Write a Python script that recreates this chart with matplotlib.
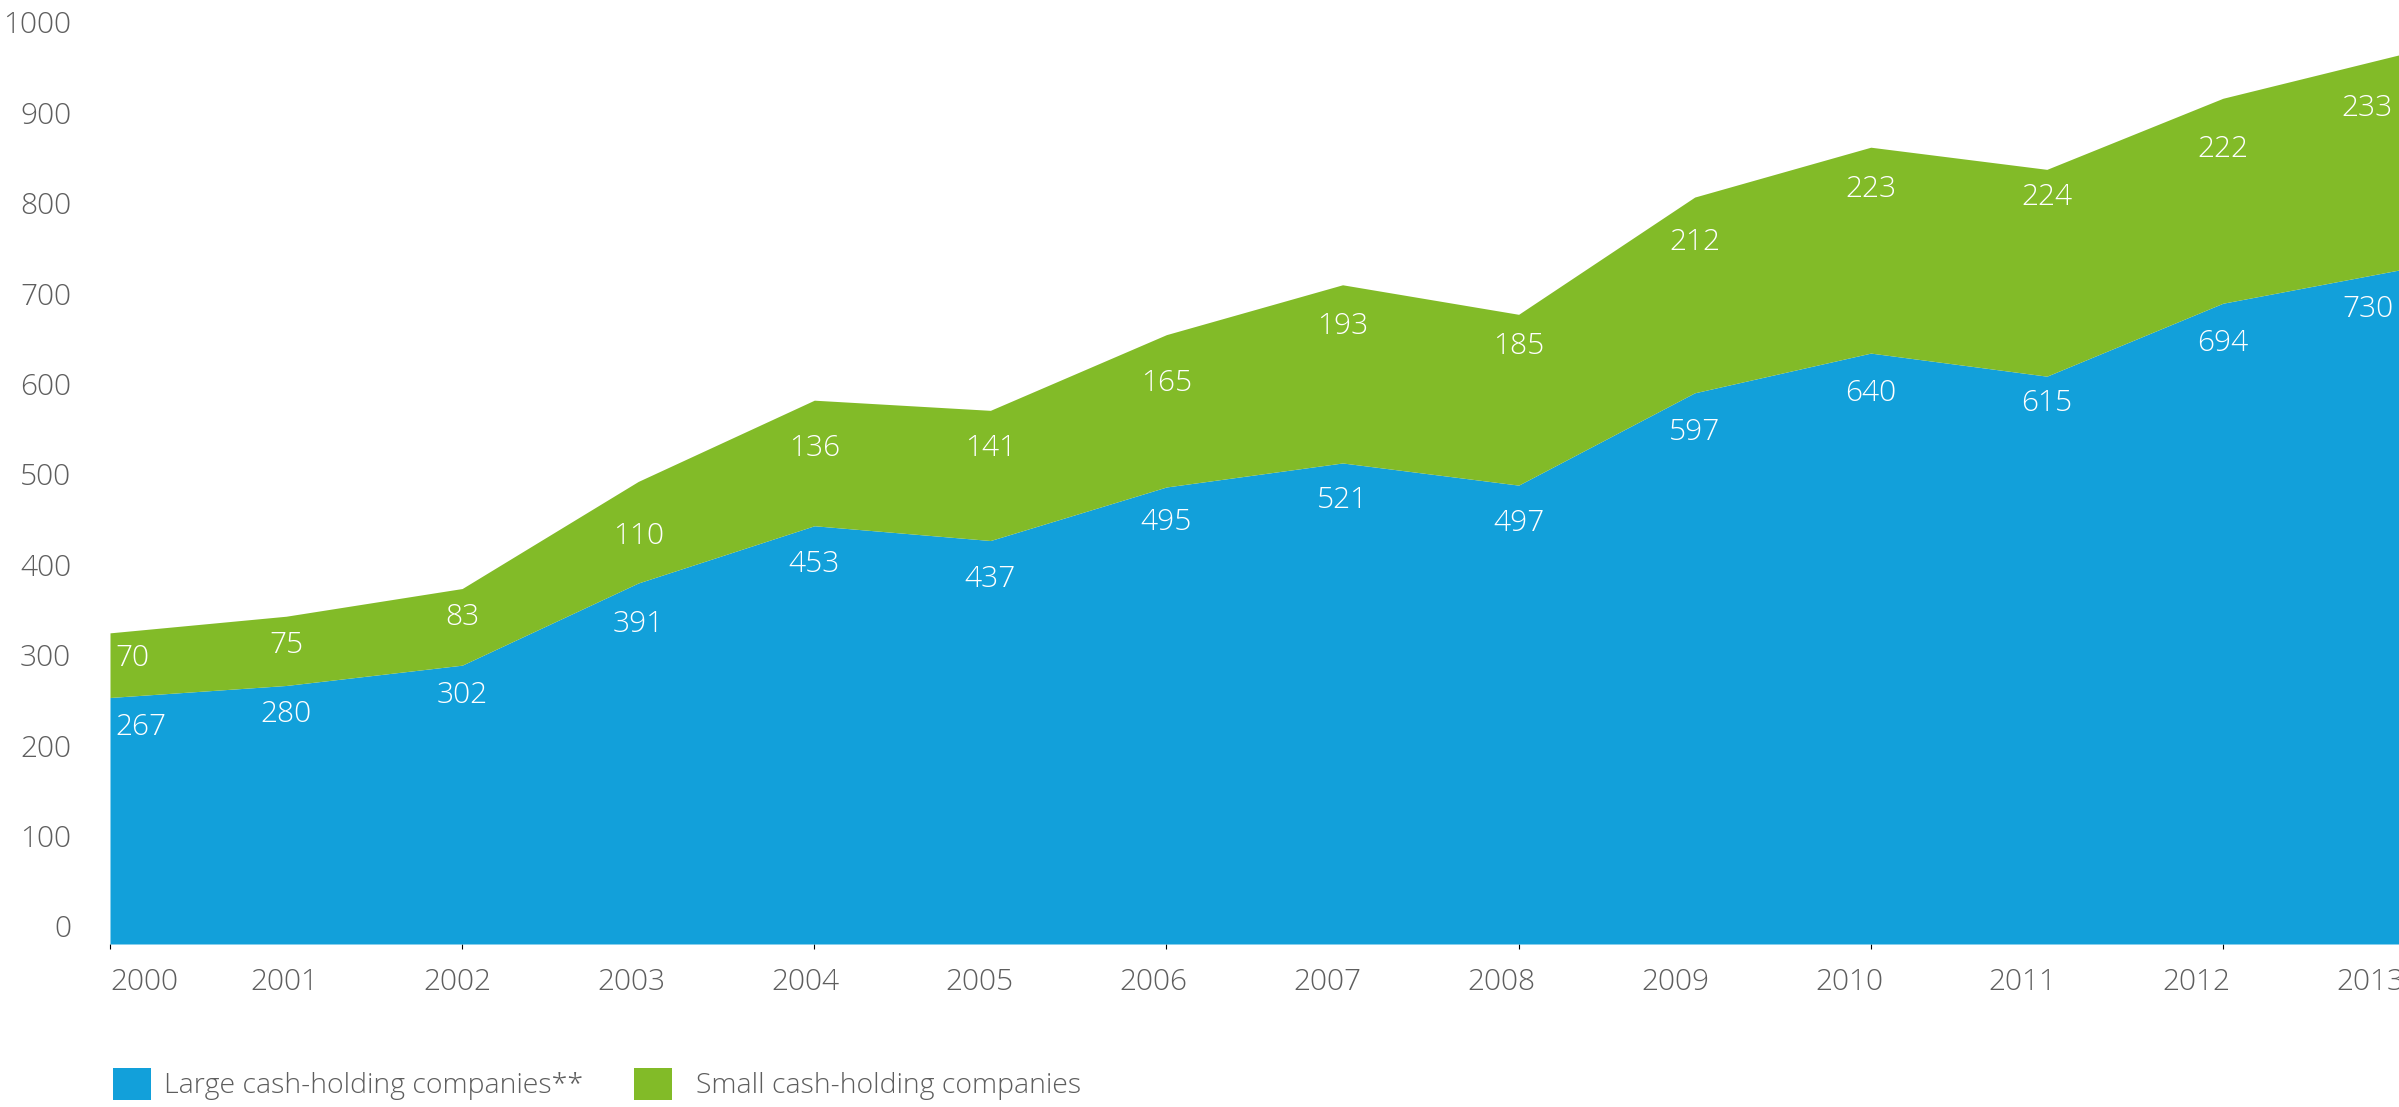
import numpy as np
import matplotlib
matplotlib.use("Agg")
import matplotlib.pyplot as plt
from matplotlib.patches import Patch

# Cash holdings by company group, 2000-2013
years = list(range(2000, 2014))
large = [267, 280, 302, 391, 453, 437, 495, 521, 497, 597, 640, 615, 694, 730]
small = [70, 75, 83, 110, 136, 141, 165, 193, 185, 212, 223, 224, 222, 233]
y_ticks = [0, 100, 200, 300, 400, 500, 600, 700, 800, 900, 1000]
series_names = ["Large cash-holding companies**", "Small cash-holding companies"]

# extra downward nudge (pixels) for individual value labels
nudge_large = [3, 1, 1, 4, 4, 12, 2, 8, 12, 0, 8, 1, 4, 4]
nudge_small = [-1, 1, 0, 14, 11, 11, 12, 8, 5, 3, 9, 1, 15, 15]

BLUE = "#12A0DA"
GREEN = "#82BB28"
GRID = "#c4c4c4"
TEXT = "#5e5e5e"
FS = 21.5
FS_LEGEND = 20.5

plt.rcParams["font.family"] = ["Open Sans", "DejaVu Sans"]
plt.rcParams["font.weight"] = "light"

W, H, DPI = 2399, 1107, 100
PT = 72.0 / DPI  # points per pixel
fig = plt.figure(figsize=(W / DPI, H / DPI), dpi=DPI)

# main plot area (pixel geometry converted to figure fractions)
left_px, right_px, bottom_px, top_px = 110, 2399, 944, 16.1
ax = fig.add_axes([left_px / W, (H - bottom_px) / H,
                   (right_px - left_px) / W, (bottom_px - top_px) / H])

x = np.array(years, dtype=float)
lo = np.array(large, dtype=float)
hi = lo + np.array(small, dtype=float)

ax.fill_between(x, 0, lo, color=BLUE, lw=0, zorder=2)
ax.fill_between(x, lo, hi, color=GREEN, lw=0, zorder=2)
ax.set_xlim(years[0], years[-1])
ax.set_ylim(0, 1005)
ax.set_yticks(y_ticks)
ax.yaxis.grid(True, color=GRID, lw=1.3)
ax.set_axisbelow(True)
ax.tick_params(left=False, bottom=False, labelleft=False, labelbottom=False)
for s in ax.spines.values():
    s.set_visible(False)

# value axis labels
ay = ax.twinx()
ay.set_ylim(-19.7, 1006.6)
ay.yaxis.tick_left()
ay.set_yticks(y_ticks)
ay.set_yticklabels([str(t) for t in y_ticks])
ay.tick_params(axis="y", length=0, pad=28, labelsize=FS, labelcolor=TEXT,
               labelleft=True, labelright=False)
for s in ay.spines.values():
    s.set_visible(False)

# category axis labels
axx = ax.twiny()
axx.set_xlim(years[0], years[0] + 13.163)
axx.xaxis.tick_bottom()
axx.set_xticks(years)
axx.set_xticklabels([str(y) for y in years])
axx.tick_params(axis="x", length=0, pad=16.8, labelsize=FS, labelcolor=TEXT,
                labelbottom=True, labeltop=False)
axx.get_xticklabels()[0].set_horizontalalignment("left")
for s in axx.spines.values():
    s.set_visible(False)
axx.set_yticks([])


def place_labels(top, values, nudges):
    n = len(values)
    for i, (xi, v, nd) in enumerate(zip(x, values, nudges)):
        txt = str(v)
        hw = 0.0455 * len(txt)
        if i == 0:
            ha, dx, span = "left", 5 * PT, (xi, xi + 2 * hw)
        elif i == n - 1:
            ha, dx, span = "right", -6 * PT, (xi - 2 * hw, xi)
        else:
            ha, dx, span = "center", 0.0, (xi - hw, xi + hw)
        xs = np.linspace(span[0], span[1], 25)
        ymin = np.interp(xs, x, top).min()
        dy = -(34.2 + nd) * PT
        ax.annotate(txt, (xi, ymin), xytext=(dx, dy), textcoords="offset points",
                    ha=ha, va="baseline", color="white", fontsize=FS, zorder=5,
                    annotation_clip=False)


place_labels(lo, large, nudge_large)
place_labels(hi, small, nudge_small)

# legend entries
em_px = FS_LEGEND / PT
for name, color, x_px, pad_px in [(series_names[0], BLUE, 113, 13.5),
                                  (series_names[1], GREEN, 633.5, 24)]:
    fig.legend([Patch(facecolor=color, lw=0)], [name], loc="center left",
               bbox_to_anchor=(x_px / W, 1 - 1084 / H), frameon=False,
               fontsize=FS_LEGEND, labelcolor=TEXT, handlelength=38 / em_px,
               handleheight=38 / em_px, handletextpad=pad_px / em_px,
               borderpad=0, borderaxespad=0)

fig.savefig("out.png", dpi=DPI)
